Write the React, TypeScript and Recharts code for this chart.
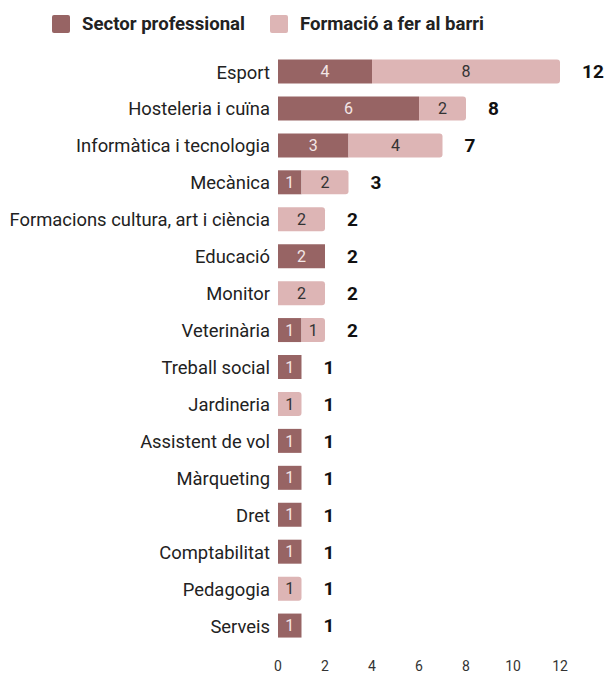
import { BarChart, Bar, XAxis, YAxis, Legend, LabelList } from 'recharts';

const categories = [
  'Esport',
  'Hosteleria i cuïna',
  'Informàtica i tecnologia',
  'Mecànica',
  'Formacions cultura, art i ciència',
  'Educació',
  'Monitor',
  'Veterinària',
  'Treball social',
  'Jardineria',
  'Assistent de vol',
  'Màrqueting',
  'Dret',
  'Comptabilitat',
  'Pedagogia',
  'Serveis',
];
const sectorProfessional = [4, 6, 3, 1, 0, 2, 0, 1, 1, 0, 1, 1, 1, 1, 0, 1];
const formacioBarri = [8, 2, 4, 2, 2, 0, 2, 1, 0, 1, 0, 0, 0, 0, 1, 0];
const xTicks = [0, 2, 4, 6, 8, 10, 12];

const DARK = '#976464';
const LIGHT = '#ddb5b5';

const data = categories.map((name, i) => ({
  name,
  sector: sectorProfessional[i],
  formacio: formacioBarri[i],
  total: sectorProfessional[i] + formacioBarri[i],
}));

const hideZero = (v: any) => (v ? v : '');

function LegendContent() {
  const items = [
    { label: 'Sector professional', color: DARK },
    { label: 'Formació a fer al barri', color: LIGHT },
  ];
  return (
    <div style={{ height: 48, display: 'flex', alignItems: 'center', paddingLeft: 52 }}>
      {items.map((it) => (
        <div key={it.label} style={{ display: 'flex', alignItems: 'center', marginRight: 25 }}>
          <span
            style={{ width: 18, height: 18, background: it.color, borderRadius: 2, display: 'inline-block', marginRight: 12 }}
          />
          <span style={{ fontFamily: 'Roboto', fontWeight: 700, fontSize: 18.6, color: '#222' }}>{it.label}</span>
        </div>
      ))}
    </div>
  );
}

// total at the end of the stack; value is null where another series draws it
function TotalLabel(props: any) {
  const { x, y, width, height, value } = props;
  if (value == null || value === '') return null;
  return (
    <text
      x={Number(x) + Number(width) + 22}
      y={Number(y) + Number(height) / 2}
      dy="0.36em"
      textAnchor="start"
      fontFamily="Roboto"
      fontWeight={700}
      fontSize={19}
      fill="#111"
    >
      {value}
    </text>
  );
}

export default function App() {
  return (
    <div style={{ position: 'absolute', left: 0, top: 0, background: '#fff' }}>
      <BarChart
        width={609}
        height={674}
        data={data}
        layout="vertical"
        margin={{ top: 5.5, right: 49, bottom: 0, left: 0 }}
        barSize={24}
      >
        <Legend verticalAlign="top" align="left" content={<LegendContent />} wrapperStyle={{ top: 0, left: 0 }} />
        <XAxis
          type="number"
          domain={[0, 12]}
          ticks={xTicks}
          axisLine={false}
          tickLine={false}
          tickSize={0}
          tickMargin={17}
          height={29.5}
          tick={{ fill: '#333', fontSize: 14, fontFamily: 'Roboto' }}
        />
        <YAxis
          type="category"
          dataKey="name"
          width={278}
          axisLine={false}
          tickLine={false}
          tickSize={0}
          tickMargin={8}
          interval={0}
          tick={{ fill: '#222', fontSize: 18.4, fontFamily: 'Roboto' }}
        />
        <Bar dataKey="sector" stackId="a" fill={DARK} isAnimationActive={false}>
          <LabelList
            dataKey="sector"
            position="center"
            formatter={hideZero}
            style={{ fill: '#f3e6e6', fontSize: 16, fontFamily: 'Roboto' }}
          />
          <LabelList dataKey={(d: any) => (d.formacio === 0 ? d.total : null)} content={<TotalLabel />} />
        </Bar>
        <Bar dataKey="formacio" stackId="a" fill={LIGHT} radius={[0, 3, 3, 0]} isAnimationActive={false}>
          <LabelList
            dataKey="formacio"
            position="center"
            formatter={hideZero}
            style={{ fill: '#333', fontSize: 16, fontFamily: 'Roboto' }}
          />
          <LabelList dataKey="total" content={<TotalLabel />} />
        </Bar>
      </BarChart>
    </div>
  );
}
